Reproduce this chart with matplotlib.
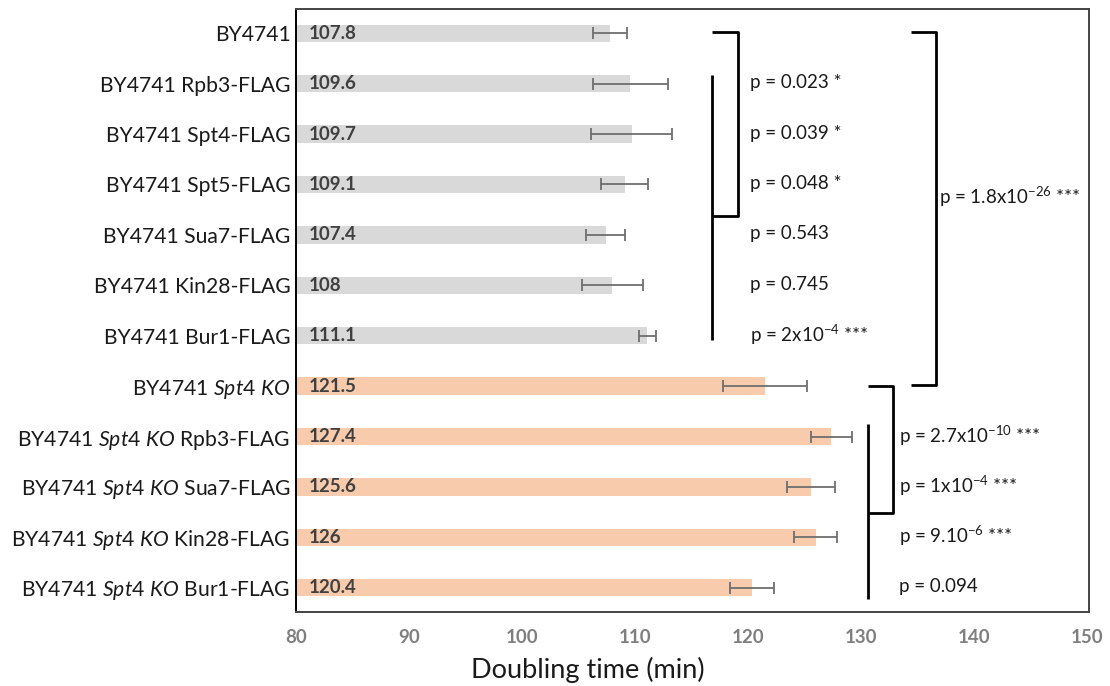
import numpy as np
import matplotlib.pyplot as plt

plt.rcParams['font.family'] = ['Lato', 'DejaVu Sans']
plt.rcParams['mathtext.fontset'] = 'custom'
plt.rcParams['mathtext.rm'] = 'Lato'
plt.rcParams['mathtext.it'] = 'Lato:italic'
plt.rcParams['mathtext.default'] = 'regular'

# data
strains = ['BY4741', 'BY4741 Rpb3-FLAG', 'BY4741 Spt4-FLAG', 'BY4741 Spt5-FLAG',
           'BY4741 Sua7-FLAG', 'BY4741 Kin28-FLAG', 'BY4741 Bur1-FLAG',
           'BY4741 $\\mathit{Spt4\\ KO}$',
           'BY4741 $\\mathit{Spt4\\ KO}$ Rpb3-FLAG',
           'BY4741 $\\mathit{Spt4\\ KO}$ Sua7-FLAG',
           'BY4741 $\\mathit{Spt4\\ KO}$ Kin28-FLAG',
           'BY4741 $\\mathit{Spt4\\ KO}$ Bur1-FLAG']
doubling = [107.8, 109.6, 109.7, 109.1, 107.4, 108, 111.1,
            121.5, 127.4, 125.6, 126, 120.4]
value_labels = ['107.8', '109.6', '109.7', '109.1', '107.4', '108', '111.1',
                '121.5', '127.4', '125.6', '126', '120.4']
err = [1.5, 3.3, 3.6, 2.1, 1.75, 2.7, 0.75, 3.7, 1.8, 2.1, 1.9, 1.95]
is_ko = [False] * 7 + [True] * 5

pvals_wt = ['p = 0.023 *', 'p = 0.039 *', 'p = 0.048 *', 'p = 0.543',
            'p = 0.745', 'p = 2x10$^{-4}$ ***']
pvals_ko = ['p = 2.7x10$^{-10}$ ***', 'p = 1x10$^{-4}$ ***',
            'p = 9.10$^{-6}$ ***', 'p = 0.094']
p_all = 'p = 1.8x10$^{-26}$ ***'

grey = '#d9d9d9'
orange = '#f8cbad'

fig = plt.figure(figsize=(11.1, 6.86), dpi=100)
ax = fig.add_axes([296 / 1110, 74 / 686, 793 / 1110, 603 / 686])

y = np.arange(len(strains))
ax.barh(y, np.array(doubling) - 80, left=80, height=0.345,
        color=[orange if k else grey for k in is_ko])
ax.errorbar(doubling, y, xerr=err, fmt='none', ecolor='#6e6e6e',
            elinewidth=1.3, capsize=4.5, capthick=1.3)

for yi, lab in zip(y, value_labels):
    ax.text(81.1, yi, lab, ha='left', va='center', fontsize=13.5,
            fontweight='bold', color='#404040')

ax.set_xlim(80, 150.2)
ax.set_ylim(11.48, -0.48)
ax.set_xticks(np.arange(80, 151, 10))
ax.set_yticks(y)
ax.set_yticklabels(strains, fontsize=15.2, color='#1a1a1a')
ax.tick_params(axis='both', length=0)
ax.tick_params(axis='y', pad=4)
ax.tick_params(axis='x', pad=12)
for lab in ax.get_xticklabels():
    lab.set_fontweight('bold')
    lab.set_fontsize(13.5)
    lab.set_color('#7f7f7f')
ax.set_xlabel('Doubling time (min)', fontsize=19.5, color='#1a1a1a')
ax.xaxis.set_label_coords(0.368, -0.075)

for side in ['top', 'right', 'bottom']:
    ax.spines[side].set_color('#444444')
    ax.spines[side].set_linewidth(1.4)
ax.spines['left'].set_color('black')
ax.spines['left'].set_linewidth(1.4)

# significance brackets
lk = dict(color='black', lw=2, solid_capstyle='butt')
ax.plot([116.8, 119.1, 119.1, 116.8], [-0.03, -0.03, 3.63, 3.63], **lk)
ax.plot([116.8, 116.8], [0.83, 6.08], **lk)
ax.plot([134.4, 136.65, 136.65, 134.4], [-0.03, -0.03, 6.97, 6.97], **lk)
ax.plot([130.66, 132.84, 132.84, 130.66], [7.0, 7.0, 9.52, 9.52], **lk)
ax.plot([130.66, 130.66], [7.76, 11.22], **lk)

for i, t in enumerate(pvals_wt):
    ax.text(120.2, 1 + i - 0.02, t, ha='left', va='center', fontsize=13.5,
            color='#1a1a1a')
for i, t in enumerate(pvals_ko):
    ax.text(133.37, 8 + i - 0.02, t, ha='left', va='center', fontsize=13.5,
            color='#1a1a1a')
ax.text(136.9, 3.25, p_all, ha='left', va='center', fontsize=13.5,
        color='#1a1a1a')

fig.savefig('out.png', dpi=100)
